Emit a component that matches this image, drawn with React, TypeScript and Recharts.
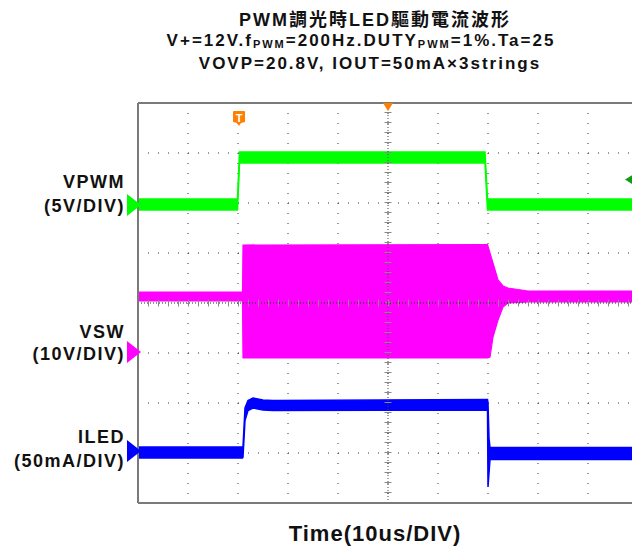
import React from 'react';
import { ComposedChart, Area, XAxis, YAxis, CartesianGrid, ReferenceLine, ReferenceDot } from 'recharts';

// Time axis in microseconds (10 us / DIV), vertical axis in divisions (0 = bottom, 8 = top)
const timeTicks = [0, 10, 20, 30, 40, 50, 60, 70, 80, 90, 100];
const divTicks = [0, 1, 2, 3, 4, 5, 6, 7, 8];

// VPWM trace (green band: low/high edge in DIV)
const pwmTime = [0, 19.9, 20.3, 69.4, 69.9, 100];
const pwmLow = [5.86, 5.86, 6.8, 6.8, 5.86, 5.86];
const pwmHigh = [6.08, 6.08, 7.02, 7.02, 6.08, 6.08];

// VSW trace (magenta envelope)
const swTime = [0, 20.9, 21.0, 69.9, 70.4, 71, 72, 73, 74, 78, 100];
const swLow = [4.04, 4.04, 2.9, 2.9, 2.92, 3.32, 3.66, 3.92, 4.0, 4.02, 4.02];
const swHigh = [4.22, 4.22, 5.16, 5.17, 5.0, 4.8, 4.46, 4.34, 4.3, 4.24, 4.24];

// ILED trace (blue band)
const ledTime = [0, 20.9, 21.0, 21.4, 22.0, 23.0, 25.0, 27.0, 69.9, 70.0, 70.2, 70.4, 100];
const ledLow = [0.9, 0.9, 0.92, 1.65, 1.85, 1.9, 1.86, 1.85, 1.86, 0.32, 0.6, 0.87, 0.87];
const ledHigh = [1.12, 1.12, 1.12, 1.9, 2.05, 2.1, 2.06, 2.05, 2.07, 2.0, 1.3, 1.11, 1.11];

// Channel ground markers (DIV) and other scope markers
const pwmMarkerLevel = 5.96;
const swMarkerLevel = 3.02;
const ledMarkerLevel = 1.04;
const triggerTime = 20.2;
const triggerLevel = 6.47;

const titleLines = ['PWM調光時LED驅動電流波形', 'VOVP=20.8V, IOUT=50mA×3strings'];
const xLabel = 'Time(10us/DIV)';

const pwmData = pwmTime.map((t, i) => ({ t, v: [pwmLow[i], pwmHigh[i]] }));
const swData = swTime.map((t, i) => ({ t, v: [swLow[i], swHigh[i]] }));
const ledData = ledTime.map((t, i) => ({ t, v: [ledLow[i], ledHigh[i]] }));

const GREEN = '#00ff00';
const MAGENTA = '#ff00ff';
const BLUE = '#0000ff';
const ORANGE = '#ff8000';

const rightArrow = (color: string) => (p: any) => (
  <path d={`M${p.cx - 11},${p.cy - 11} L${p.cx + 3},${p.cy} L${p.cx - 11},${p.cy + 11} Z`} fill={color} />
);

const font = '"Liberation Sans", Arial, "Noto Sans CJK TC", sans-serif';

export default function App() {
  return (
    <div style={{ position: 'absolute', left: 0, top: 0, width: 632, height: 550, overflow: 'hidden', background: '#fff' }}>
      <ComposedChart width={640} height={550} margin={{ top: 103, right: 2, bottom: 47, left: 138 }}>
        <XAxis type="number" dataKey="t" domain={[0, 100]} ticks={timeTicks} hide allowDataOverflow />
        <YAxis type="number" domain={[0, 8]} ticks={divTicks} hide allowDataOverflow />
        <Area data={pwmData} dataKey="v" type="linear" stroke={GREEN} strokeWidth={1.5} fill={GREEN} fillOpacity={1} isAnimationActive={false} dot={false} activeDot={false} />
        <Area data={swData} dataKey="v" type="linear" stroke={MAGENTA} strokeWidth={1.2} fill={MAGENTA} fillOpacity={1} isAnimationActive={false} dot={false} activeDot={false} />
        <Area data={ledData} dataKey="v" type="linear" stroke={BLUE} strokeWidth={1.5} fill={BLUE} fillOpacity={1} isAnimationActive={false} dot={false} activeDot={false} />
        <CartesianGrid stroke="#333" strokeDasharray="1 9" />
        <ReferenceLine x={50} stroke="#444" strokeDasharray="1 2" ifOverflow="visible" />
        <ReferenceLine x={50} stroke="#888" strokeWidth={7} strokeDasharray="1 9" ifOverflow="visible" />
        <ReferenceLine y={4} stroke="#222" strokeDasharray="1 2" ifOverflow="visible" />
        <ReferenceLine y={4} stroke="#888" strokeWidth={7} strokeDasharray="1 9" ifOverflow="visible" />
        <ReferenceLine x={0} stroke="#7a7a7a" strokeWidth={2} ifOverflow="visible" />
        <ReferenceLine y={8} stroke="#7a7a7a" strokeWidth={2} ifOverflow="visible" />
        <ReferenceLine y={0} stroke="#7a7a7a" strokeWidth={2} ifOverflow="visible" />
        <ReferenceDot x={0} y={pwmMarkerLevel} ifOverflow="visible" shape={rightArrow(GREEN)} />
        <ReferenceDot x={0} y={swMarkerLevel} ifOverflow="visible" shape={rightArrow(MAGENTA)} />
        <ReferenceDot x={0} y={ledMarkerLevel} ifOverflow="visible" shape={rightArrow(BLUE)} />
        <ReferenceDot x={50} y={8} ifOverflow="visible" shape={(p: any) => (
          <path d={`M${p.cx - 5},${p.cy} L${p.cx + 5},${p.cy} L${p.cx},${p.cy + 8} Z`} fill={ORANGE} />
        )} />
        <ReferenceDot x={triggerTime} y={7.7} ifOverflow="visible" shape={(p: any) => (
          <g>
            <path d={`M${p.cx - 6},${p.cy - 6} Q${p.cx - 6},${p.cy - 7} ${p.cx - 5},${p.cy - 7} L${p.cx + 5},${p.cy - 7} Q${p.cx + 6},${p.cy - 7} ${p.cx + 6},${p.cy - 6} L${p.cx + 6},${p.cy + 4} L${p.cx + 2},${p.cy + 5} L${p.cx},${p.cy + 8} L${p.cx - 2},${p.cy + 5} L${p.cx - 6},${p.cy + 4} Z`} fill={ORANGE} />
            <text x={p.cx} y={p.cy + 4} textAnchor="middle" fontSize={11} fontWeight="bold" fill="#fff" fontFamily={font}>T</text>
          </g>
        )} />
        <ReferenceDot x={97.4} y={triggerLevel} ifOverflow="visible" shape={(p: any) => (
          <path d={`M${p.cx},${p.cy} L${p.cx + 8},${p.cy - 5} L${p.cx + 8},${p.cy + 5} Z`} fill="#139a13" />
        )} />
      </ComposedChart>
      <svg width={632} height={550} style={{ position: 'absolute', left: 0, top: 0, pointerEvents: 'none' }} fontFamily={font} fontWeight="bold" fill="#111">
        <text x={375} y={26} textAnchor="middle" fontSize={18} letterSpacing={2}>{titleLines[0]}</text>
        <text x={361} y={46} textAnchor="middle" fontSize={17} letterSpacing={2}>
          V+=12V.f<tspan fontSize={11} dy={2}>PWM</tspan><tspan dy={-2}>=200Hz.DUTY</tspan><tspan fontSize={11} dy={2}>PWM</tspan><tspan dy={-2}>=1%.Ta=25</tspan>
        </text>
        <text x={370} y={69} textAnchor="middle" fontSize={17} letterSpacing={2}>{titleLines[1]}</text>
        <g textAnchor="end" fontSize={18} letterSpacing={1.5}>
          <text x={125} y={188}>VPWM</text>
          <text x={125} y={212}>(5V/DIV)</text>
          <text x={125} y={338}>VSW</text>
          <text x={125} y={360}>(10V/DIV)</text>
          <text x={125} y={443}>ILED</text>
          <text x={125} y={467}>(50mA/DIV)</text>
        </g>
        <text x={375} y={541} textAnchor="middle" fontSize={22} letterSpacing={1}>{xLabel}</text>
      </svg>
    </div>
  );
}
